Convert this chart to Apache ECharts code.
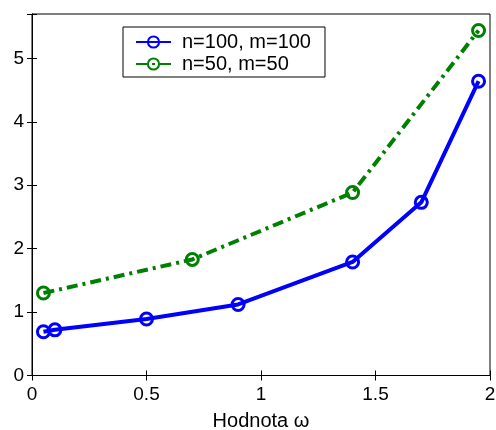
<!DOCTYPE html>
<html><head><meta charset="utf-8">
<script src="https://cdn.jsdelivr.net/npm/echarts@6/dist/echarts.min.js"></script>
<style>html,body{margin:0;padding:0;background:#fff}#c{width:496px;height:430px}</style>
</head><body><div id="c"></div>
<script>
const seriesNames = ['n=100, m=100', 'n=50, m=50'];
const xBlue = [0.05, 0.1, 0.5, 0.9, 1.4, 1.7, 1.95];
const yBlue = [0.69, 0.72, 0.89, 1.12, 1.79, 2.73, 4.64];
const xGreen = [0.05, 0.7, 1.4, 1.95];
const yGreen = [1.30, 1.83, 2.885, 5.44];
const xTicks = [0, 0.5, 1, 1.5, 2];
const yTicks = [0, 1, 2, 3, 4, 5];
const xLabel = 'Hodnota ω';

const font = 'Liberation Sans, Arial, Helvetica, sans-serif';
const chart = echarts.init(document.getElementById('c'), null, {renderer: 'canvas'});
const zip = (a, b) => a.map((v, i) => [v, b[i]]);
const tickCommon = {show: true, inside: true, length: 5, lineStyle: {color: '#000', width: 1}};
chart.setOption({
  animation: false,
  backgroundColor: '#fff',
  grid: {left: 32, top: 14, right: 6, bottom: 54.5, containLabel: false, outerBoundsMode: 'none',
    show: true, borderColor: '#000', borderWidth: 1, backgroundColor: 'transparent'},
  legend: {
    left: 123, top: 27, orient: 'vertical',
    itemWidth: 35, itemHeight: 14, itemGap: 2,
    padding: [5, 14, 3, 12],
    borderColor: '#000', borderWidth: 1, backgroundColor: '#fff',
    textStyle: {fontFamily: font, fontSize: 20, lineHeight: 20, color: '#000', padding: [0, 0, 0, 6]},
    data: seriesNames
  },
  xAxis: [{
    type: 'value', min: 0, max: 2, interval: 0.5,
    name: xLabel, nameLocation: 'middle', nameGap: 36,
    nameTextStyle: {fontFamily: font, fontSize: 20, color: '#000'},
    axisLine: {show: true, onZero: false, lineStyle: {color: '#000', width: 1}},
    axisTick: tickCommon,
    axisLabel: {fontFamily: font, fontSize: 19, color: '#000', margin: 10, formatter: v => String(v)},
    splitLine: {show: false}
  }, {
    type: 'value', min: 0, max: 2, interval: 0.5, position: 'top',
    axisLine: {show: true, lineStyle: {color: '#000', width: 1}},
    axisTick: tickCommon, axisLabel: {show: false}, splitLine: {show: false}
  }],
  yAxis: [{
    type: 'value', min: 0, max: 5.7, interval: 1,
    axisLine: {show: true, onZero: false, lineStyle: {color: '#000', width: 1}},
    axisTick: tickCommon,
    axisLabel: {fontFamily: font, fontSize: 19, color: '#000', margin: 8,
      formatter: v => yTicks.includes(v) ? String(v) : ''},
    splitLine: {show: false}
  }, {
    type: 'value', min: 0, max: 5.7, interval: 1, position: 'right',
    axisLine: {show: true, lineStyle: {color: '#000', width: 1}},
    axisTick: tickCommon, axisLabel: {show: false}, splitLine: {show: false}
  }],
  series: [{
    name: seriesNames[0], type: 'line', data: zip(xBlue, yBlue),
    symbol: 'circle', symbolSize: 12, showAllSymbol: true,
    lineStyle: {color: '#0000ff', width: 4},
    itemStyle: {color: 'rgba(0,0,0,0)', borderColor: '#0000ff', borderWidth: 3}
  }, {
    name: seriesNames[1], type: 'line', data: zip(xGreen, yGreen),
    symbol: 'circle', symbolSize: 12, showAllSymbol: true,
    lineStyle: {color: '#008000', width: 4, type: [11, 5, 3, 5]},
    itemStyle: {color: 'rgba(0,0,0,0)', borderColor: '#008000', borderWidth: 3}
  }]
});
</script></body></html>
